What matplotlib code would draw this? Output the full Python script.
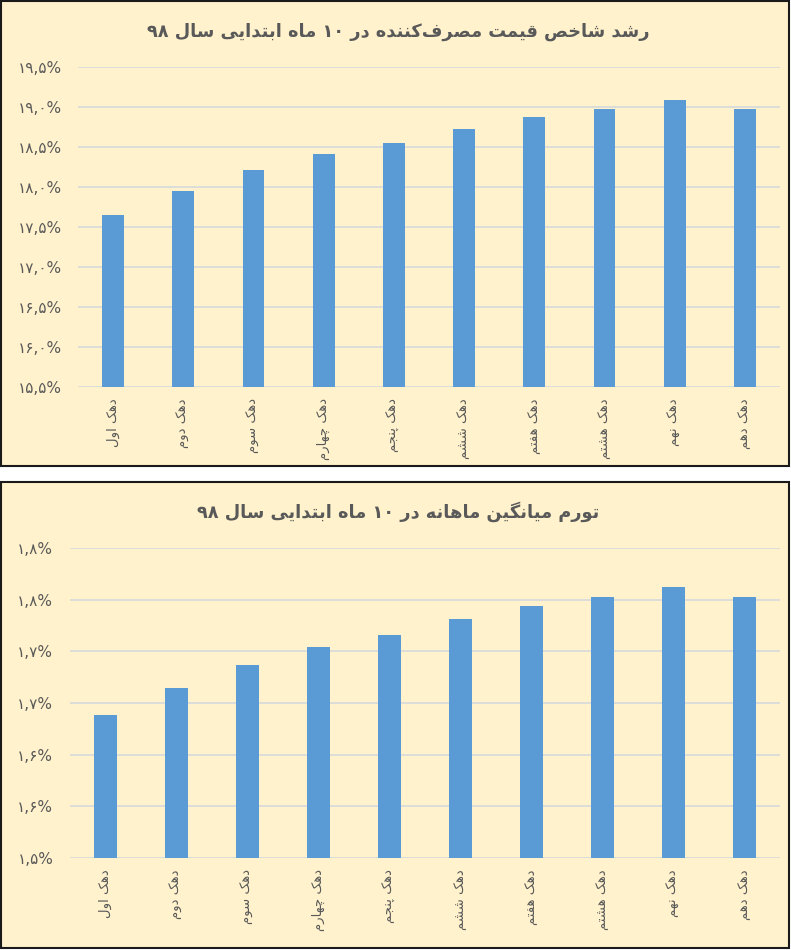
import matplotlib
matplotlib.use("Agg")
import matplotlib.pyplot as plt
from matplotlib.patches import Rectangle
import numpy as np

# داده‌ها
deciles = ["دهک اول", "دهک دوم", "دهک سوم", "دهک چهارم", "دهک پنجم",
           "دهک ششم", "دهک هفتم", "دهک هشتم", "دهک نهم", "دهک دهم"]
cpi_growth = [17.65, 17.95, 18.21, 18.41, 18.55, 18.72, 18.87, 18.98, 19.09, 18.98]
inflation = [1.638, 1.665, 1.687, 1.704, 1.716, 1.731, 1.744, 1.753, 1.762, 1.753]

title_top = "رشد شاخص قیمت مصرف\u200cکننده در ۱۰ ماه ابتدایی سال ۹۸"
title_bottom = "تورم میانگین ماهانه در ۱۰ ماه ابتدایی سال ۹۸"

top_ylim = (15.5, 19.5)
top_step = 0.5
bottom_ylim = (1.5, 1.8)
bottom_step = 0.05

# شکل‌های حروف: (تنها، پایانی، آغازی، میانی)
FORMS = {
    "ا": ("\uFE8D", "\uFE8E", None, None),
    "ب": ("\uFE8F", "\uFE90", "\uFE91", "\uFE92"),
    "پ": ("\uFB56", "\uFB57", "\uFB58", "\uFB59"),
    "ت": ("\uFE95", "\uFE96", "\uFE97", "\uFE98"),
    "ج": ("\uFE9D", "\uFE9E", "\uFE9F", "\uFEA0"),
    "چ": ("\uFB7A", "\uFB7B", "\uFB7C", "\uFB7D"),
    "خ": ("\uFEA5", "\uFEA6", "\uFEA7", "\uFEA8"),
    "د": ("\uFEA9", "\uFEAA", None, None),
    "ر": ("\uFEAD", "\uFEAE", None, None),
    "س": ("\uFEB1", "\uFEB2", "\uFEB3", "\uFEB4"),
    "ش": ("\uFEB5", "\uFEB6", "\uFEB7", "\uFEB8"),
    "ص": ("\uFEB9", "\uFEBA", "\uFEBB", "\uFEBC"),
    "ف": ("\uFED1", "\uFED2", "\uFED3", "\uFED4"),
    "ق": ("\uFED5", "\uFED6", "\uFED7", "\uFED8"),
    "ک": ("\uFB8E", "\uFB8F", "\uFB90", "\uFB91"),
    "گ": ("\uFB92", "\uFB93", "\uFB94", "\uFB95"),
    "ل": ("\uFEDD", "\uFEDE", "\uFEDF", "\uFEE0"),
    "م": ("\uFEE1", "\uFEE2", "\uFEE3", "\uFEE4"),
    "ن": ("\uFEE5", "\uFEE6", "\uFEE7", "\uFEE8"),
    "ه": ("\uFEE9", "\uFEEA", "\uFEEB", "\uFEEC"),
    "و": ("\uFEED", "\uFEEE", None, None),
    "ی": ("\uFBFC", "\uFBFD", "\uFBFE", "\uFBFF"),
}
DIGITS = "۰۱۲۳۴۵۶۷۸۹0123456789"


def dual(c):
    return c in FORMS and FORMS[c][2] is not None


def fa(text):
    """Shape Persian letters and put them in visual (left-to-right) order."""
    chars = list(text)
    shaped = []
    for i, c in enumerate(chars):
        if c == "\u200c":
            continue
        if c not in FORMS:
            shaped.append(c)
            continue
        prev = chars[i - 1] if i > 0 else ""
        nxt = chars[i + 1] if i + 1 < len(chars) else ""
        j_prev = dual(prev)
        j_next = dual(c) and nxt in FORMS
        iso, fin, ini, med = FORMS[c]
        if j_prev and j_next:
            shaped.append(med)
        elif j_prev:
            shaped.append(fin)
        elif j_next:
            shaped.append(ini)
        else:
            shaped.append(iso)
    # keep digit runs left-to-right, reverse the rest
    tokens = []
    for c in shaped:
        if c in DIGITS and tokens and tokens[-1][-1] in DIGITS:
            tokens[-1] += c
        else:
            tokens.append(c)
    return "".join(reversed(tokens))


def fa_num(v):
    s = format(v + 1e-9, ".1f").replace(".", ",")
    s = s.translate(str.maketrans("0123456789", "۰۱۲۳۴۵۶۷۸۹"))
    return s + "%"


plt.rcParams["font.family"] = ["DejaVu Sans"]

W, H = 791, 950
fig = plt.figure(figsize=(W / 100, H / 100), dpi=100)

BG = "#FFF2CC"
BAR = "#5B9BD5"
GRID = "#D6D9DC"
TXT = "#595959"


def px(x0, y0, x1, y1):
    # pixel box (top-left origin) -> figure fraction [left, bottom, width, height]
    return [x0 / W, 1 - y1 / H, (x1 - x0) / W, (y1 - y0) / H]


# پس‌زمینه و قاب هر نمودار
for box in [(1, 1, 789, 466), (1, 482, 789, 948)]:
    l, b, w, h = px(*box)
    fig.patches.append(Rectangle((l, b), w, h, transform=fig.transFigure,
                                 facecolor=BG, edgecolor="#1a1a1a", linewidth=1.5,
                                 zorder=-5))


def draw(ax, values, ylim, step, title, title_y, ypad):
    x = np.arange(len(values))
    ax.set_facecolor("none")
    ax.bar(x, np.array(values) - ylim[0], bottom=ylim[0], width=0.31,
           color=BAR, zorder=3)
    ticks = np.arange(ylim[0], ylim[1] + step / 2, step)
    ax.set_ylim(ylim)
    ax.set_yticks(ticks)
    ax.set_yticklabels([fa_num(t) for t in ticks], color=TXT, fontsize=11)
    ax.set_xlim(-0.5, len(values) - 0.5)
    ax.set_xticks(x)
    ax.set_xticklabels([fa(d) for d in deciles], rotation=90, color=TXT,
                       fontsize=9.5, va="top", ha="center")
    ax.tick_params(axis="x", length=0, pad=8)
    ax.tick_params(axis="y", length=0, pad=ypad)
    ax.grid(axis="y", color=GRID, linewidth=1.2, zorder=0)
    ax.set_axisbelow(True)
    for s in ax.spines.values():
        s.set_visible(False)
    fig.text(0.503, title_y, fa(title), ha="center", va="center",
             fontsize=12.8, fontweight="bold", color=TXT)


ax1 = fig.add_axes(px(78, 67, 780, 387))
draw(ax1, cpi_growth, top_ylim, top_step, title_top, 1 - 32 / H, 11.5)

ax2 = fig.add_axes(px(70, 548, 780, 858))
draw(ax2, inflation, bottom_ylim, bottom_step, title_bottom, 1 - 512 / H, 12)

fig.savefig("out.png", dpi=100, facecolor="white")
